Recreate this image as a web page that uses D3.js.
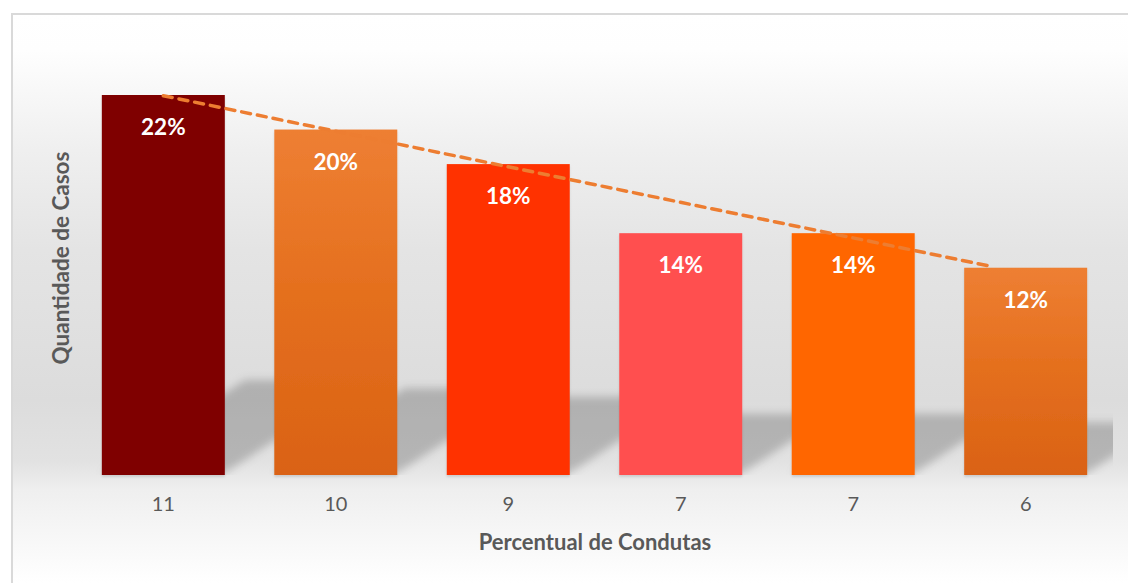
<!DOCTYPE html>
<html>
<head>
<meta charset="utf-8">
<script src="https://cdn.jsdelivr.net/npm/d3@7"></script>
<style>
  html, body { margin: 0; padding: 0; background: #fff; }
  svg { display: block; }
</style>
</head>
<body>
<svg id="chart" width="1128" height="583"></svg>
<script>
// data
const categories = ["11", "10", "9", "7", "7", "6"];
const casos = [11, 10, 9, 7, 7, 6];
const percentuais = ["22%", "20%", "18%", "14%", "14%", "12%"];
const barColors = ["#7f0000", "grad", "#ff3300", "#ff5050", "#ff6600", "grad"];
// dashed trend line, endpoints in (category index, value)
const trendX = [0, 4.78];
const trendY = [10.98, 6.06];

const W = 1128, H = 583;
const box = { left: 11, top: 13 };
const plot = { left: 77, right: 1112, top: 60, bottom: 475 };
const FONT = "Lato, 'Open Sans', sans-serif";

const svg = d3.select("#chart");
const defs = svg.append("defs");

const bg = defs.append("linearGradient").attr("id", "bgGrad")
  .attr("gradientUnits", "userSpaceOnUse").attr("x1", 0).attr("x2", 0).attr("y1", box.top).attr("y2", H);
[[13, "#ffffff"], [50, "#fefefe"], [150, "#efefef"], [250, "#e4e4e4"], [400, "#dcdcdc"], [462, "#e2e2e2"], [490, "#efefef"], [583, "#ffffff"]]
  .forEach(([y, c]) => bg.append("stop").attr("offset", (y - box.top) / (H - box.top)).attr("stop-color", c));

const barGrad = defs.append("linearGradient").attr("id", "barGrad").attr("x1", 0).attr("x2", 0).attr("y1", 0).attr("y2", 1);
barGrad.append("stop").attr("offset", 0).attr("stop-color", "#ee7f33");
barGrad.append("stop").attr("offset", 0.45).attr("stop-color", "#e5701f");
barGrad.append("stop").attr("offset", 1).attr("stop-color", "#da6214");

defs.append("filter").attr("id", "blur").attr("x", "-20%").attr("y", "-20%").attr("width", "140%").attr("height", "140%")
  .append("feGaussianBlur").attr("stdDeviation", 4);
defs.append("filter").attr("id", "drop").attr("x", "-5%").attr("y", "-5%").attr("width", "110%").attr("height", "110%")
  .append("feDropShadow").attr("dx", 0).attr("dy", 2).attr("stdDeviation", 1.2).attr("flood-color", "#000").attr("flood-opacity", 0.12);
defs.append("clipPath").attr("id", "plotClip").append("rect")
  .attr("x", box.left).attr("y", 0).attr("width", 1113 - box.left).attr("height", plot.bottom);

// chart background and border
svg.append("rect").attr("x", box.left).attr("y", box.top).attr("width", W - box.left).attr("height", H - box.top)
  .attr("fill", "url(#bgGrad)");
svg.append("path").attr("d", `M${box.left + 1},${H} V${box.top + 1} H${W}`)
  .attr("fill", "none").attr("stroke", "#d9d9d9").attr("stroke-width", 2);

const x = d3.scaleBand().domain(d3.range(categories.length)).range([plot.left, plot.right]).paddingInner(0.287).paddingOuter(0.144);
const y = d3.scaleLinear().domain([0, 12]).range([plot.bottom, plot.bottom - 12 * (380 / 11)]);
const xc = i => x(i) + x.bandwidth() / 2;

// perspective shadows behind the bars
const shadow = svg.append("g").attr("clip-path", "url(#plotClip)").append("g").attr("filter", "url(#blur)");
shadow.selectAll("path").data(casos).join("path")
  .attr("d", (d, i) => {
    const h = y(0) - y(d), hs = h * 0.245, dx = hs / 0.65;
    const x0 = x(i), x1 = x(i) + x.bandwidth(), b = y(0) - 2;
    return `M${x0},${b} L${x1},${b} L${x1 + dx},${b - hs} L${x0 + dx},${b - hs} Z`;
  })
  .attr("fill", "#000").attr("fill-opacity", 0.2);

// bars
svg.append("g").selectAll("rect").data(casos).join("rect")
  .attr("x", (d, i) => x(i)).attr("width", x.bandwidth())
  .attr("y", d => y(d)).attr("height", d => y(0) - y(d))
  .attr("fill", (d, i) => barColors[i] === "grad" ? "url(#barGrad)" : barColors[i])
  .attr("filter", "url(#drop)");

// trend line
const xi = d3.scaleLinear().domain([0, categories.length - 1]).range([xc(0), xc(categories.length - 1)]);
svg.append("line")
  .attr("x1", xi(trendX[0])).attr("y1", y(trendY[0]))
  .attr("x2", xi(trendX[1])).attr("y2", y(trendY[1]))
  .attr("stroke", "#ed7d31").attr("stroke-width", 3.5).attr("stroke-dasharray", "9 7").attr("stroke-linecap", "round");

// percentage labels
svg.append("g").selectAll("text").data(percentuais).join("text")
  .attr("x", (d, i) => xc(i)).attr("y", (d, i) => y(casos[i]) + 40)
  .attr("text-anchor", "middle").attr("fill", "#fff")
  .attr("font-family", FONT).attr("font-weight", 700).attr("font-size", 22.5)
  .text(d => d);

// x axis tick labels
const xAxis = d3.axisBottom(x).tickSize(0).tickPadding(22).tickFormat(i => categories[i]);
const gx = svg.append("g").attr("transform", `translate(0,${plot.bottom})`).call(xAxis);
gx.select(".domain").remove();
gx.selectAll("text").attr("fill", "#595959").attr("font-family", FONT).attr("font-size", 20);

// axis titles
svg.append("text").attr("x", 595).attr("y", 550).attr("text-anchor", "middle")
  .attr("fill", "#595959").attr("font-family", FONT).attr("font-weight", 700).attr("font-size", 22)
  .text("Percentual de Condutas");
svg.append("text").attr("transform", "translate(69,258) rotate(-90)").attr("text-anchor", "middle")
  .attr("fill", "#595959").attr("font-family", FONT).attr("font-weight", 700).attr("font-size", 22.5)
  .text("Quantidade de Casos");
</script>
</body>
</html>
